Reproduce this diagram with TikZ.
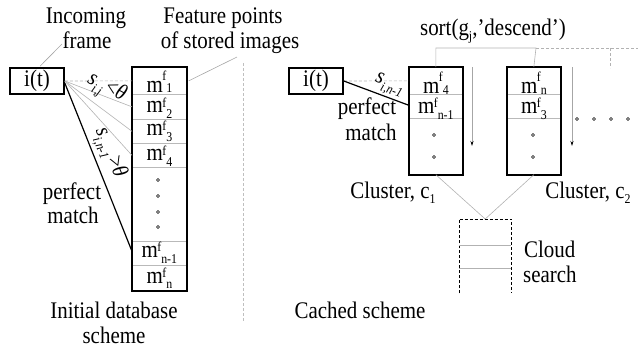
\documentclass[tikz,border=0pt]{standalone}
\usepackage{fontspec}
\setmainfont{Liberation Serif}[FakeStretch=0.88]
\usetikzlibrary{arrows.meta,calc}
\newcommand\subsz{\fontsize{13.5}{13.5}\selectfont}
\newcommand\mfe[3]{m\kern-0.5pt\raisebox{#1pt}{\subsz f}\raisebox{-#2pt}{\subsz #3}}
\newcommand\lowsub[1]{\raisebox{-5pt}{\subsz #1}}
\begin{document}
\begin{tikzpicture}[x=1pt,y=-1pt,
  txt/.style={font=\fontsize{23.8}{28}\selectfont, inner sep=0pt},
  lab/.style={font=\fontsize{22.5}{26}\selectfont, inner sep=0pt},
  heavybox/.style={draw, line width=1.6pt},
  itbox/.style={heavybox, minimum width=54pt, minimum height=26pt, inner sep=0pt, font=\fontsize{23.8}{28}\selectfont},
  cellL/.style={draw=gray!55, line width=0.7pt, minimum width=54pt, anchor=north west, inner sep=0pt},
  cellR/.style={draw=gray!55, line width=0.7pt, minimum width=53pt, anchor=north west, inner sep=0pt},
  thin/.style={draw=gray!60, line width=0.6pt},
  leader/.style={draw=gray!70, line width=0.6pt},
  dashthin/.style={draw=gray!60, line width=0.6pt, dash pattern=on 3pt off 2pt},
  match/.style={draw, line width=1.2pt},
  dotc/.style={draw, line width=0.5pt},
  sortarrow/.style={draw=gray!70, line width=0.8pt, -{Stealth[black,length=5pt,width=3pt]}}
]
\useasboundingbox (0,0) rectangle (638,349);

% ---------- left: initial database scheme ----------
\node[itbox] (it1) at (37,81) {i(t)};

\node[cellL, minimum height=27pt] (r1) at (132,67) {};
\node[cellL, minimum height=25pt] (r2) at (132,94) {};
\node[cellL, minimum height=24pt] (r3) at (132,119) {};
\node[cellL, minimum height=24pt] (r4) at (132,143) {};
\node[cellL, minimum height=74pt] (rd) at (132,167) {};
\node[cellL, minimum height=24pt] (r5) at (132,241) {};
\node[cellL, minimum height=25pt] (r6) at (132,265) {};
\draw[heavybox] (r1.north west) rectangle (r6.south east);

\node[txt, anchor=base] (t1) at ($(r1.south)+(0,-2)$) {\mfe{12}{0}{1}};
\node[txt, anchor=base] (t2) at ($(r2.south)+(0,-7)$) {\mfe{5}{6}{2}};
\node[txt, anchor=base] (t3) at ($(r3.south)+(0,-8)$) {\mfe{5}{6}{3}};
\node[txt, anchor=base] (t4) at ($(r4.south)+(0,-7)$) {\mfe{5}{6}{4}};
\node[txt, anchor=base] (t5) at ($(r5.south)+(0,-8)$) {\mfe{6}{6}{n-1}};
\node[txt, anchor=base] (t6) at ($(r6.south)+(0,-7)$) {\mfe{6}{5}{n}};
\foreach \yy in {180,196,212,227} \draw[dotc] (158,\yy) circle (1.5pt);

\draw[dashthin] (it1.east) -- (r1.west);
\draw[thin] (it1.east) -- (r2.west);
\draw[thin] (it1.east) -- (r3.west);
\draw[thin] (it1.east) -- (r4.west);
\draw[match] ($(it1.east)+(0,2)$) -- ($(r5.west)+(0,-2)$);

\node[lab, rotate=-28] (s1) at (106,89) {\textit{s}\raisebox{-6pt}{\subsz\textit{i,j}}\kern2pt<\textit{θ}};
\node[lab, rotate=-68] (s2) at (109,153) {\textit{s}\raisebox{-6pt}{\subsz\textit{i,n-1}}\kern2pt>\textit{θ}};

\node[txt, anchor=base] (pm1) at (72,199) {perfect};
\node[txt, anchor=base] (pm2) at (73,223) {match};

\node[txt, anchor=base] (inc1) at (86,23) {Incoming};
\node[txt, anchor=base] (inc2) at (87,48) {frame};
\coordinate (lf1) at (62,44);
\draw[leader] (lf1) -- ($(it1.north)+(3,-1)$);

\node[txt, anchor=base] (fp1) at (223,23) {Feature points};
\node[txt, anchor=base] (fp2) at (230,48) {of stored images};
\coordinate (lf2) at (237,57);
\draw[leader] (lf2) -- ($(r1.east)+(2,0)$);

\node[txt, anchor=base] (ids1) at (114,318) {Initial database};
\node[txt, anchor=base] (ids2) at (114,343) {scheme};

% separator
\coordinate (sepT) at (243,63);
\coordinate (sepB) at (243,322);
\draw[draw=gray!50, line width=0.6pt, dash pattern=on 3pt off 2pt] (sepT) -- (sepB);

% ---------- right: cached scheme ----------
\node[itbox] (it2) at (316,81) {i(t)};

\node[cellR, minimum height=27pt] (q1) at (409,67) {};
\node[cellR, minimum height=24pt] (q2) at (409,94) {};
\node[cellR, minimum height=56pt] (q3) at (409,118) {};
\draw[heavybox] (q1.north west) rectangle (q3.south east);
\node[txt, anchor=base] (u1) at ($(q1.south)+(0,-1)$) {\mfe{12}{1}{4}};
\node[txt, anchor=base] (u2) at ($(q2.south)+(0,-5)$) {\mfe{6}{6}{n-1}};
\foreach \yy in {135,157} \draw[dotc] (434,\yy) circle (1.5pt);

\node[cellR, minimum height=27pt] (p1) at (507,67) {};
\node[cellR, minimum height=24pt] (p2) at (507,94) {};
\node[cellR, minimum height=56pt] (p3) at (507,118) {};
\draw[heavybox] (p1.north west) rectangle (p3.south east);
\node[txt, anchor=base] (v1) at ($(p1.south)+(0,-1)$) {\mfe{12}{1}{n}};
\node[txt, anchor=base] (v2) at ($(p2.south)+(0,-5)$) {\mfe{6}{6}{3}};
\foreach \yy in {135,157} \draw[dotc] (533,\yy) circle (1.5pt);

\draw[dashthin] (it2.east) -- (q1.west);
\draw[match] (it2.east) -- ($(q2.west)+(0,-1)$);
\node[lab, rotate=-21] (s3) at (389,86) {\textit{s}\raisebox{-6pt}{\subsz\textit{i,n-1}}};

\node[txt, anchor=base] (pm3) at (367,114) {perfect};
\node[txt, anchor=base] (pm4) at (371,140) {match};

% sorting arrows
\coordinate (a1s) at (472,67); \coordinate (a1e) at (472,146);
\coordinate (a2s) at (572,67); \coordinate (a2e) at (572,146);
\draw[sortarrow] (a1s) -- (a1e);
\draw[sortarrow] (a2s) -- (a2e);
\foreach \xx in {577,594,611,628} \draw[dotc] (\xx,119) circle (1.5pt);

% sort bracket
\node[txt, anchor=base] (sort) at (493,35) {sort(g\lowsub{j},’descend’)};
\coordinate (bm) at (536,48);
\coordinate (br) at (638,48);
\coordinate (b3t) at (610,48);
\coordinate (b3b) at (610,68);
\draw[thin] (q1.north) |- (bm) -- (p1.north);
\draw[dashthin] (bm) -- (br);
\draw[dashthin] (b3t) -- (b3b);

% clusters
\node[txt, anchor=base] (cl1) at (393,198) {Cluster, c\lowsub{1}};
\node[txt, anchor=base] (cl2) at (588,198) {Cluster, c\lowsub{2}};

% cloud search
\node[minimum width=52pt, minimum height=74pt, inner sep=0pt, anchor=north west] (cs) at (459,219) {};
\draw[thin] (q3.south) -- (cs.north) -- (p3.south);
\draw[line width=0.8pt, dash pattern=on 3pt off 2pt] (cs.south west) -- (cs.north west) -- (cs.north east) -- (cs.south east);
\draw[thin] ($(cs.north west)+(0,26)$) -- ($(cs.north east)+(0,26)$);
\draw[thin] ($(cs.north west)+(0,49)$) -- ($(cs.north east)+(0,49)$);
\node[txt, anchor=base west] (cd1) at (524,257) {Cloud};
\node[txt, anchor=base west] (cd2) at (523,282) {search};

\node[txt, anchor=base] (cch) at (360,318) {Cached scheme};
\end{tikzpicture}
\end{document}
